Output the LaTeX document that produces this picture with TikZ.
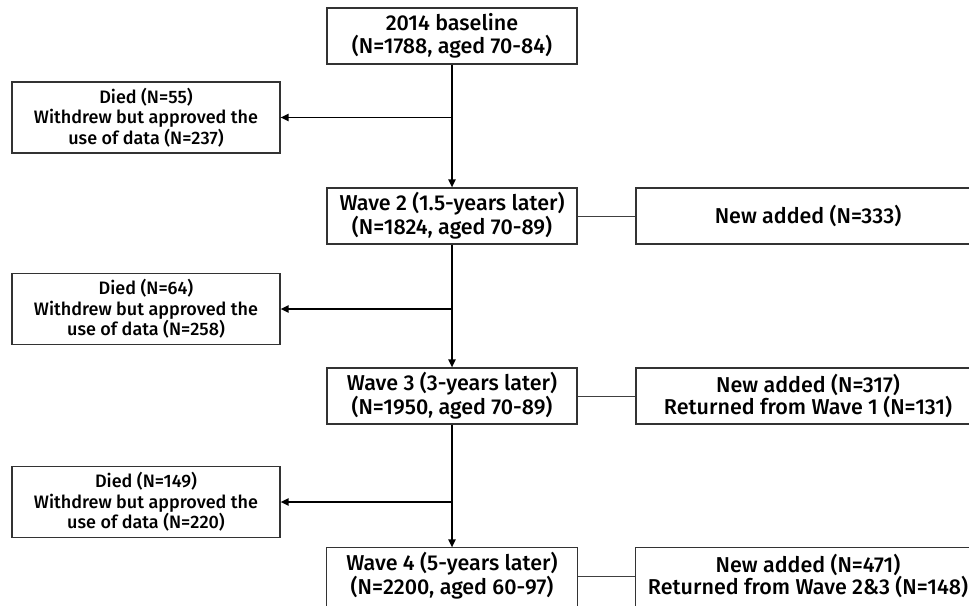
\documentclass[tikz,border=0pt]{standalone}
\usepackage{fontspec}
\setmainfont{Fira Sans Medium}
\usetikzlibrary{arrows.meta}
\begin{document}
\begin{tikzpicture}[x=1pt,y=-1pt,
  boxline/.style={draw=black!80,line width=1.1pt},
  mainbox/.style={boxline,minimum width=250pt,minimum height=56pt,align=center,font=\fontsize{21.5}{22.5}\selectfont,inner sep=0pt},
  sidebox/.style={boxline,minimum width=268pt,minimum height=71pt,align=center,font=\fontsize{18}{20.5}\selectfont,inner sep=0pt},
  addbox/.style={boxline,minimum width=344pt,minimum height=56pt,align=center,font=\fontsize{21.5}{21}\selectfont,inner sep=0pt},
  flow/.style={line width=1.8pt,-{Triangle[length=8pt,width=7pt]}},
  link/.style={line width=1pt,draw=black!75}]
\useasboundingbox (0,0) rectangle (969,605);
\clip (0,0) rectangle (969,605);
\node[mainbox] (top) at (452,36) {2014 baseline\\(N=1788, aged 70-84)};
\node[mainbox] (w2) at (452,216) {Wave 2 (1.5-years later)\\(N=1824, aged 70-89)};
\node[mainbox] (w3) at (452,396) {Wave 3 (3-years later)\\(N=1950, aged 70-89)};
\node[mainbox,draw=none] (w4) at (452,576) {Wave 4 (5-years later)\\(N=2200, aged 60-97)};
\draw[boxline] ([yshift=-10pt]w4.south west) rectangle (w4.north east);
\node[sidebox] (d1) at (146,117.5) {Died (N=55)\\Withdrew but approved the\\use of data (N=237)};
\node[sidebox] (d2) at (146,309) {Died (N=64)\\Withdrew but approved the\\use of data (N=258)};
\node[sidebox] (d3) at (146,502) {Died (N=149)\\Withdrew but approved the\\use of data (N=220)};
\node[addbox] (r1) at (808,216) {New added (N=333)};
\node[addbox] (r2) at (808,396) {New added (N=317)\\Returned from Wave 1 (N=131)};
\node[addbox,draw=none] (r3) at (808,576) {New added (N=471)\\Returned from Wave 2\&3 (N=148)};
\draw[boxline] ([yshift=-10pt]r3.south west) rectangle (r3.north east);
\coordinate (j1) at (top.south |- d1.east);
\coordinate (j2) at (w2.south |- d2.east);
\coordinate (j3) at (w3.south |- d3.east);
\draw[flow] (top.south) -- (w2.north);
\draw[flow] (w2.south) -- (w3.north);
\draw[flow] (w3.south) -- (w4.north);
\draw[flow] (j1) -- (d1.east);
\draw[flow] (j2) -- (d2.east);
\draw[flow] (j3) -- (d3.east);
\draw[link] (w2.east) -- (r1.west);
\draw[link] (w3.east) -- (r2.west);
\draw[link] (w4.east) -- (r3.west);
\end{tikzpicture}
\end{document}
